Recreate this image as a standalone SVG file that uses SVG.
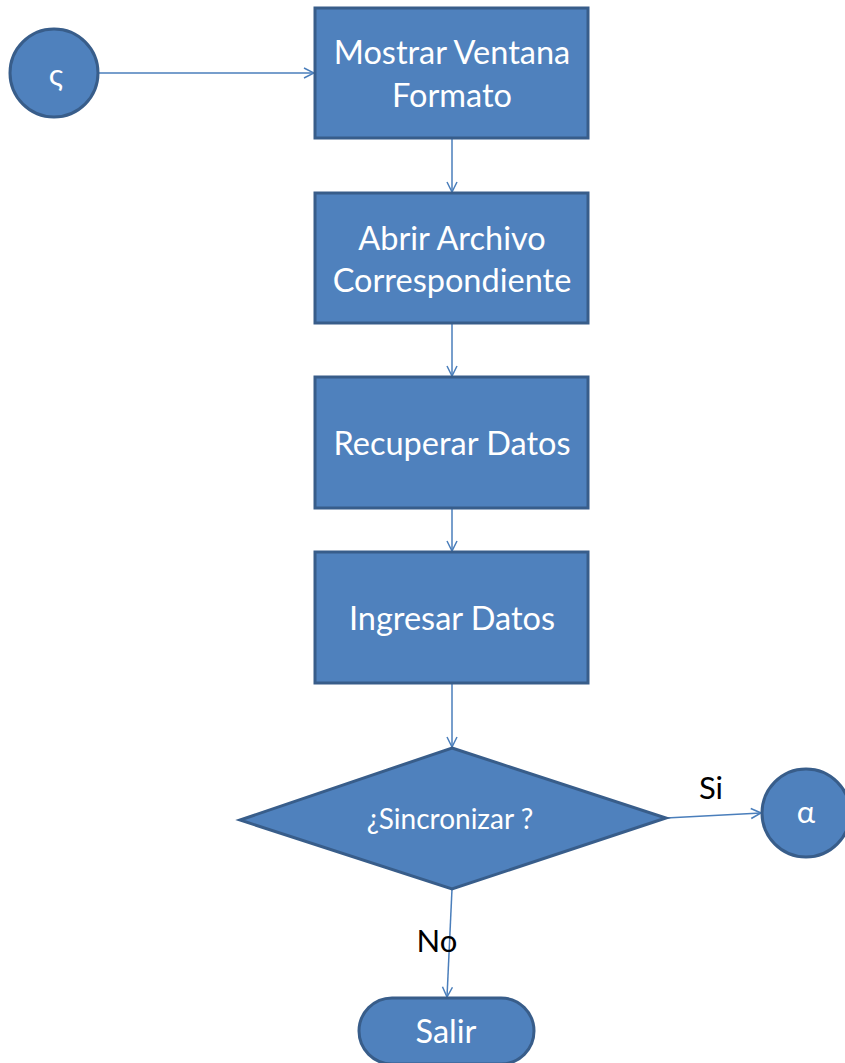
<svg xmlns="http://www.w3.org/2000/svg" width="845" height="1063" viewBox="0 0 845 1063">
<style>
.shape{fill:#4f81bd;stroke:#385d8a;stroke-width:3}
.t{font-family:Lato,"Open Sans",sans-serif;fill:#ffffff;text-anchor:middle;font-size:32.5px}
.ts{font-size:28px}
.tg{font-size:31px}
.lbl{font-family:Lato,"Open Sans",sans-serif;fill:#000000;text-anchor:middle;font-size:31px}
.c{fill:none;stroke:#4a7ebb;stroke-width:1.5;marker-end:url(#arr)}
</style>
<defs>
<marker id="arr" viewBox="0 0 12 12" refX="11" refY="6" markerWidth="12" markerHeight="12" markerUnits="userSpaceOnUse" orient="auto">
<path d="M1,1 L11,6 L1,11" fill="none" stroke="#4a7ebb" stroke-width="1.5"/>
</marker>
</defs>
<g id="connectors">
<line class="c" x1="98" y1="73" x2="314" y2="73"/>
<line class="c" x1="452" y1="138" x2="452" y2="192"/>
<line class="c" x1="452" y1="323" x2="452" y2="376"/>
<line class="c" x1="452" y1="508" x2="452" y2="551"/>
<line class="c" x1="452" y1="683" x2="452" y2="747"/>
<line class="c" x1="666" y1="818" x2="761" y2="813"/>
<line class="c" x1="452" y1="889" x2="447" y2="997"/>
</g>
<g id="start">
<circle class="shape" cx="54" cy="73" r="44"/>
<text class="t tg" x="56" y="86">ς</text>
</g>
<g id="n1">
<rect class="shape" x="315" y="8" width="273" height="130"/>
<text class="t" x="452" y="64">Mostrar Ventana</text>
<text class="t" x="452" y="107">Formato</text>
</g>
<g id="n2">
<rect class="shape" x="315" y="193" width="273" height="130"/>
<text class="t" x="452" y="250">Abrir Archivo</text>
<text class="t" x="452" y="292">Correspondiente</text>
</g>
<g id="n3">
<rect class="shape" x="315" y="377" width="273" height="131"/>
<text class="t" x="452" y="455">Recuperar Datos</text>
</g>
<g id="n4">
<rect class="shape" x="315" y="552" width="273" height="131"/>
<text class="t" x="452" y="630">Ingresar Datos</text>
</g>
<g id="decision">
<polygon class="shape" points="452,748 666,818 452,889 240,820"/>
<text class="t ts" x="450" y="829">¿Sincronizar ?</text>
</g>
<g id="alpha">
<circle class="shape" cx="806" cy="813" r="44"/>
<text class="t tg" x="806" y="823">α</text>
</g>
<g id="salir">
<rect class="shape" x="359" y="998" width="175" height="66" rx="33"/>
<text class="t" x="446" y="1043">Salir</text>
</g>
<g id="labels">
<text class="lbl" x="711" y="799">Si</text>
<text class="lbl" x="437" y="952">No</text>
</g>
</svg>
